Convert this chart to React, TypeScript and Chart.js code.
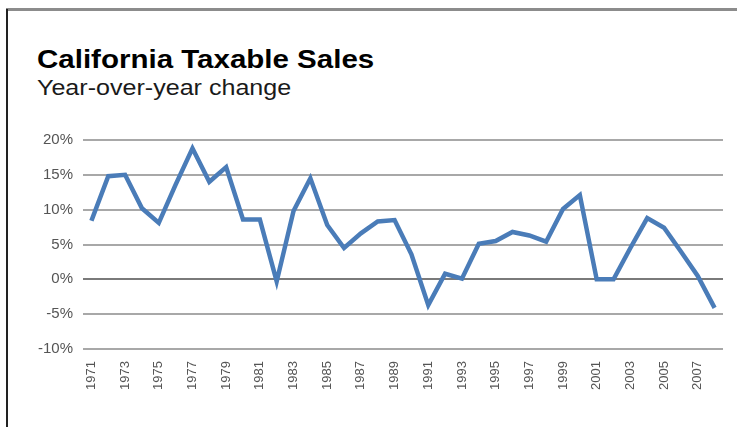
import React, { useEffect, useRef } from "react";
import { Chart, registerables } from "chart.js";

Chart.register(...registerables);

const years: string[] = [
  "1971","1972","1973","1974","1975","1976","1977","1978","1979","1980",
  "1981","1982","1983","1984","1985","1986","1987","1988","1989","1990",
  "1991","1992","1993","1994","1995","1996","1997","1998","1999","2000",
  "2001","2002","2003","2004","2005","2006","2007","2008",
];

const yoyChange: number[] = [
  8.4, 14.8, 15.0, 10.2, 8.1, 13.6, 18.8, 14.0, 16.1, 8.6,
  8.6, -0.3, 9.8, 14.5, 7.8, 4.5, 6.6, 8.3, 8.5, 3.6,
  -3.7, 0.8, 0.1, 5.1, 5.5, 6.8, 6.3, 5.4, 10.1, 12.1,
  0.0, 0.0, 4.5, 8.8, 7.4, 4.0, 0.5, -4.1,
];

const yMin = -10;
const yMax = 20;
const yStep = 5;

const titleText = "California Taxable Sales";
const subtitleText = "Year-over-year change";

export default function App() {
  const canvasRef = useRef<HTMLCanvasElement | null>(null);

  useEffect(() => {
    const canvas = canvasRef.current;
    if (!canvas) return;
    const chart = new Chart(canvas, {
      type: "line",
      data: {
        labels: years,
        datasets: [
          {
            data: yoyChange,
            borderColor: "#4a7cb8",
            borderWidth: 4.5,
            pointRadius: 0,
            tension: 0,
            fill: false,
            borderJoinStyle: "miter",
          },
        ],
      },
      options: {
        responsive: false,
        animation: false,
        layout: { padding: { top: 20, right: 14, left: 0, bottom: 0 } },
        plugins: {
          legend: { display: false },
          tooltip: { enabled: false },
          title: { display: false },
        },
        scales: {
          x: {
            offset: true,
            grid: { display: false, drawTicks: false },
            border: { display: false },
            ticks: {
              autoSkip: false,
              maxRotation: 90,
              minRotation: 90,
              padding: 12,
              color: "#555",
              font: { family: "'Liberation Sans', Arial, sans-serif", size: 13 },
              callback: (_v: any, i: number) => (i % 2 === 0 ? years[i] : ""),
            },
            afterFit: (scale: any) => {
              scale.height = 76;
              scale.paddingLeft = 0;
              scale.paddingRight = 0;
            },
          },
          y: {
            min: yMin,
            max: yMax,
            grid: {
              drawTicks: false,
              lineWidth: 2,
              color: (ctx: any) => (ctx.tick && ctx.tick.value === 0 ? "#7a7a7a" : "#a8a8a8"),
            },
            border: { display: false },
            ticks: {
              stepSize: yStep,
              padding: 10,
              color: "#555",
              font: { family: "'Liberation Sans', Arial, sans-serif", size: 15 },
              callback: (v: any) => v + "%",
            },
            afterFit: (scale: any) => {
              scale.width = 75;
              scale.paddingTop = 0;
              scale.paddingBottom = 0;
            },
          },
        },
      },
    });
    return () => chart.destroy();
  }, []);

  return (
    <div style={{ position: "absolute", left: 0, top: 0, width: 737, height: 430, background: "#fff", overflow: "hidden" }}>
      <div style={{ position: "absolute", left: 6, top: 8, right: 0, height: 3, background: "#8c8c8c" }} />
      <div style={{ position: "absolute", left: 6, top: 9, width: 2, height: 418, background: "#222" }} />
      <div
        style={{
          position: "absolute",
          left: 37,
          top: 44,
          fontFamily: "'Liberation Sans', Arial, sans-serif",
          fontWeight: "bold",
          fontSize: 25,
          color: "#000",
          lineHeight: "30px",
          whiteSpace: "nowrap",
          transform: "scaleX(1.18)",
          transformOrigin: "left top",
        }}
      >
        {titleText}
      </div>
      <div
        style={{
          position: "absolute",
          left: 37,
          top: 75,
          fontFamily: "'Liberation Sans', Arial, sans-serif",
          fontSize: 22,
          color: "#1a1a1a",
          lineHeight: "26px",
          whiteSpace: "nowrap",
          transform: "scaleX(1.14)",
          transformOrigin: "left top",
        }}
      >
        {subtitleText}
      </div>
      <canvas
        ref={canvasRef}
        width={729}
        height={305}
        style={{ position: "absolute", left: 8, top: 120, width: 729, height: 305 }}
      />
    </div>
  );
}
